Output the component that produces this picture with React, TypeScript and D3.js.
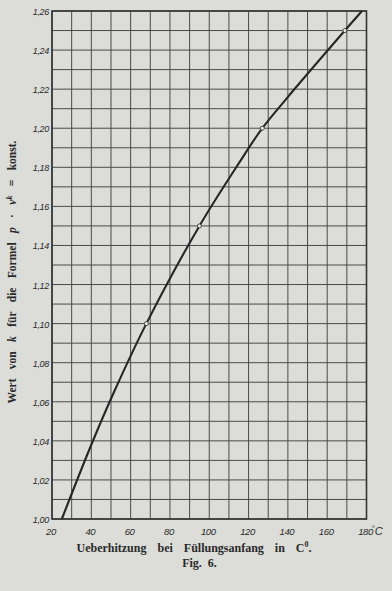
import React from "react";
import * as d3 from "d3";

const curveT = [25, 40, 52, 68, 95, 115, 127, 139, 169, 177.7];
const curveK = [1.0, 1.038, 1.066, 1.1, 1.15, 1.182, 1.2, 1.2148, 1.25, 1.26];
const markerT = [68, 95, 127, 169];
const markerK = [1.1, 1.15, 1.2, 1.25];
const xTicks = [20, 40, 60, 80, 100, 120, 140, 160, 180];
const yTicks = [1.0, 1.02, 1.04, 1.06, 1.08, 1.1, 1.12, 1.14, 1.16, 1.18, 1.2, 1.22, 1.24, 1.26];
const xGrid = d3.range(20, 181, 10);
const yGrid = d3.range(0, 27).map((i) => 1 + i * 0.01);

const W = 392;
const H = 591;
const L = 52, R = 366.5, T = 11, B = 519;

export default function App() {
  const x = d3.scaleLinear().domain([20, 180]).range([L, R]);
  const y = d3.scaleLinear().domain([1.0, 1.26]).range([B, T]);
  const pts: [number, number][] = curveT.map((t, i) => [t, curveK[i]]);
  const line = d3
    .line<[number, number]>()
    .x((d) => x(d[0]))
    .y((d) => y(d[1]))
    .curve(d3.curveCatmullRom.alpha(0.5));
  const tickFont = "'Liberation Sans', Arial, sans-serif";
  const serif = "'Liberation Serif', 'DejaVu Serif', serif";
  return (
    <svg
      width={W}
      height={H}
      style={{ position: "absolute", left: 0, top: 0, display: "block" }}
    >
      <rect x={0} y={0} width={W} height={H} fill="#dcdcd8" />
      {xGrid.map((v) => (
        <line key={"xg" + v} x1={x(v)} x2={x(v)} y1={T} y2={B} stroke="#4a4a4a" strokeWidth={1} />
      ))}
      {yGrid.map((v, i) => (
        <line key={"yg" + i} x1={L} x2={R} y1={y(v)} y2={y(v)} stroke="#4a4a4a" strokeWidth={1} />
      ))}
      <rect x={L} y={T} width={R - L} height={B - T} fill="none" stroke="#333" strokeWidth={1.6} />
      <path d={line(pts) || ""} fill="none" stroke="#262626" strokeWidth={2.1} />
      {markerT.map((t, i) => (
        <circle key={"m" + i} cx={x(t)} cy={y(markerK[i])} r={2} fill="#eeeeea" stroke="#333" strokeWidth={0.9} />
      ))}
      {yTicks.map((v) => (
        <text
          key={"yt" + v}
          x={L - 3}
          y={y(v) + 4}
          textAnchor="end"
          fontFamily={tickFont}
          fontStyle="italic"
          fontSize={9}
          letterSpacing={-0.3}
          fill="#2a2a2a"
        >
          {v.toFixed(2).replace(".", ",")}
        </text>
      ))}
      {xTicks.map((v) => (
        <text
          key={"xt" + v}
          x={x(v) - 1}
          y={534.5}
          textAnchor="middle"
          fontFamily={tickFont}
          fontStyle="italic"
          fontSize={9.5}
          letterSpacing={-0.4}
          fill="#2a2a2a"
        >
          {v}
        </text>
      ))}
      <text x={x(180) + 5} y={534.5} fontFamily={tickFont} fontStyle="italic" fontSize={11} fill="#2a2a2a">
        <tspan fontSize={8} dy={-3.5}>°</tspan>
        <tspan dy={3.5}>C</tspan>
      </text>
      <text
        transform={`translate(16, 272) rotate(-90)`}
        textAnchor="middle"
        fontFamily={serif}
        fontWeight="bold"
        fontSize={11.5}
        wordSpacing={6.5}
        fill="#2a2a2a"
      >
        Wert von <tspan fontStyle="italic">k</tspan> für die Formel <tspan fontStyle="italic">p</tspan> · <tspan fontStyle="italic">v</tspan>
        <tspan fontStyle="italic" fontSize={8} dy={-4.5}>k</tspan>
        <tspan dy={4.5}> = konst.</tspan>
      </text>
      <text
        x={194}
        y={552}
        textAnchor="middle"
        fontFamily={serif}
        fontWeight="bold"
        fontSize={12}
        wordSpacing={8}
        fill="#2a2a2a"
      >
        Ueberhitzung bei Füllungsanfang in C<tspan fontSize={8} dy={-5}>0</tspan>
        <tspan dy={5}>.</tspan>
      </text>
      <text
        x={199.5}
        y={567}
        textAnchor="middle"
        fontFamily={serif}
        fontWeight="bold"
        fontSize={12}
        wordSpacing={3}
        fill="#2a2a2a"
      >
        Fig. 6.
      </text>
    </svg>
  );
}
